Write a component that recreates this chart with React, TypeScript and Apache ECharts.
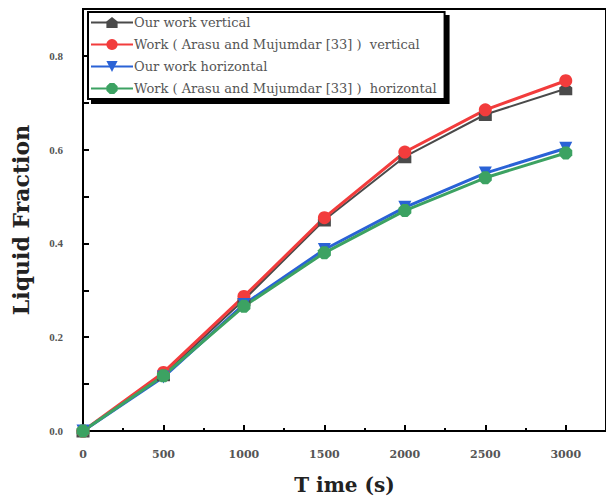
import React, { useEffect, useRef } from "react";
import * as echarts from "echarts";

const times = [0, 500, 1000, 1500, 2000, 2500, 3000];
const ourVertical = [0, 0.12, 0.28, 0.45, 0.585, 0.675, 0.73];
const workVertical = [0, 0.125, 0.287, 0.455, 0.595, 0.685, 0.747];
const ourHorizontal = [0, 0.115, 0.27, 0.387, 0.477, 0.55, 0.603];
const workHorizontal = [0, 0.118, 0.266, 0.38, 0.47, 0.54, 0.593];
const seriesNames = [
  "Our work vertical",
  "Work ( Arasu and Mujumdar [33] )  vertical",
  "Our work horizontal",
  "Work ( Arasu and Mujumdar [33] )  horizontal",
];

const serif = "Liberation Serif, serif";
const wideSerif = "DejaVu Serif, serif";

export default function App() {
  const ref = useRef<HTMLDivElement>(null);
  useEffect(() => {
    if (!ref.current) return;
    const chart = echarts.init(ref.current, null, { renderer: "svg" });
    const mk = (vals: number[]) => times.map((t, i) => [t, vals[i]]);
    const series: any[] = [
      {
        name: seriesNames[0],
        data: mk(ourVertical),
        color: "#4a4a4a",
        symbol: "path://M0,4 L5,0 L10,4 L10,10 L0,10 Z",
        symbolSize: 13,
        lineWidth: 2,
      },
      {
        name: seriesNames[1],
        data: mk(workVertical),
        color: "#f23c3c",
        symbol: "circle",
        symbolSize: 13,
        lineWidth: 3,
      },
      {
        name: seriesNames[2],
        data: mk(ourHorizontal),
        color: "#2a62d6",
        symbol: "triangle",
        symbolRotate: 180,
        symbolSize: 13,
        lineWidth: 3,
      },
      {
        name: seriesNames[3],
        data: mk(workHorizontal),
        color: "#3ca262",
        symbol: "path://M3,0 L7,0 L10,3 L10,7 L7,10 L3,10 L0,7 L0,3 Z",
        symbolSize: 13,
        lineWidth: 3,
      },
    ].map((s) => ({
      type: "line",
      name: s.name,
      data: s.data,
      symbol: s.symbol,
      symbolRotate: (s as any).symbolRotate,
      symbolSize: s.symbolSize,
      showAllSymbol: true,
      itemStyle: { color: s.color },
      lineStyle: { color: s.color, width: s.lineWidth },
    }));

    chart.setOption({
      animation: false,
      backgroundColor: "#ffffff",
      grid: {
        left: 83,
        top: 9,
        right: -3,
        bottom: 72,
        show: true,
        borderColor: "#000",
        borderWidth: 2,
      },
      legend: {
        orient: "vertical",
        left: 88,
        top: 12,
        padding: [4, 8, 4, 2],
        itemGap: 9,
        itemWidth: 42,
        itemHeight: 14,
        backgroundColor: "#fff",
        borderColor: "#000",
        borderWidth: 2,
        shadowColor: "#000",
        shadowOffsetX: 4,
        shadowOffsetY: 4,
        shadowBlur: 0,
        textStyle: { fontFamily: wideSerif, fontSize: 13, color: "#555", padding: [0, 0, 0, -4] },
        data: seriesNames,
      },
      xAxis: {
        type: "value",
        min: 0,
        max: 3250,
        interval: 500,
        name: "T ime (s)",
        nameLocation: "middle",
        nameGap: 44,
        nameTextStyle: { fontFamily: wideSerif, fontSize: 20, fontWeight: "bold", color: "#222" },
        axisLine: { show: true, lineStyle: { color: "#000", width: 2 } },
        axisTick: { show: true, inside: true, length: 6, lineStyle: { color: "#000", width: 2 } },
        minorTick: { show: true, splitNumber: 2, length: 3, lineStyle: { color: "#000", width: 2 } },
        splitLine: { show: false },
        axisLabel: {
          showMaxLabel: false,
          margin: 18,
          fontFamily: wideSerif,
          fontSize: 11,
          fontWeight: "bold",
          color: "#555",
          formatter: (v: number) => String(v),
        },
      },
      yAxis: {
        type: "value",
        min: 0,
        max: 0.9,
        interval: 0.1,
        name: "Liquid Fraction",
        nameLocation: "middle",
        nameGap: 51,
        nameTextStyle: { fontFamily: wideSerif, fontSize: 22, fontWeight: "bold", color: "#222" },
        axisLine: { show: true, lineStyle: { color: "#000", width: 2 } },
        axisTick: { show: true, inside: true, length: 6, lineStyle: { color: "#000", width: 2 } },
        splitLine: { show: false },
        axisLabel: {
          margin: 20,
          fontFamily: serif,
          fontSize: 11,
          fontWeight: "bold",
          color: "#555",
          formatter: (v: number) => {
            const k = Math.round(v * 10);
            return k % 2 === 0 && k <= 8 ? (k / 10).toFixed(1) : "";
          },
        },
      },
      series,
    });
    return () => chart.dispose();
  }, []);
  return (
    <div
      ref={ref}
      style={{ position: "fixed", left: 0, top: 0, width: 606, height: 503 }}
    />
  );
}
